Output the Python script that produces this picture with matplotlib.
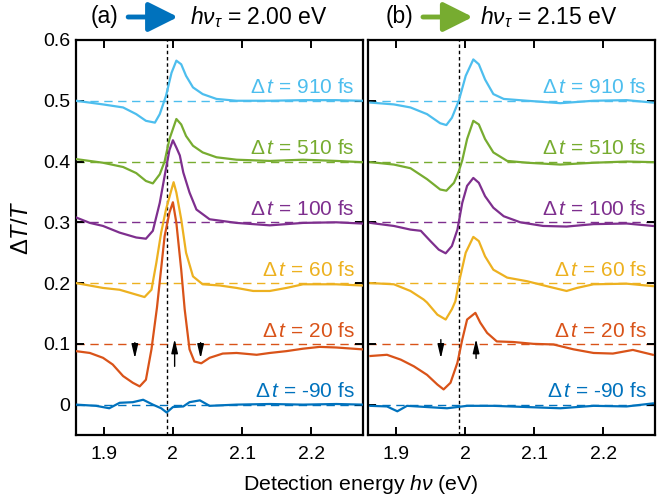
import numpy as np
import matplotlib
matplotlib.use("Agg")
import matplotlib.pyplot as plt

plt.rcParams['font.family'] = ['Liberation Sans', 'DejaVu Sans']
plt.rcParams['mathtext.fontset'] = 'custom'
plt.rcParams['mathtext.rm'] = 'Liberation Sans'
plt.rcParams['mathtext.it'] = 'Liberation Sans:italic'
plt.rcParams['mathtext.bf'] = 'Liberation Sans:bold'

# MATLAB-ish colours, one per delay
delays = ['-90', '20', '60', '100', '510', '910']
offsets = [0.0, 0.1, 0.2, 0.3, 0.4, 0.5]
colors = ['#0072BD', '#D95319', '#EDB120', '#7E2F8E', '#77AC30', '#4DBEEE']

# ---- panel (a): pump 2.00 eV ----
e_a_m90 = [1.860, 1.889, 1.908, 1.923, 1.942, 1.957, 1.971, 1.983, 1.991, 2.000, 2.015, 2.024, 2.039, 2.053, 2.092, 2.140, 2.188, 2.236, 2.273]
v_a_m90 = [0.000, -0.002, -0.006, 0.003, 0.004, 0.008, 0.000, -0.006, -0.013, -0.004, -0.003, 0.004, 0.007, -0.002, 0.000, 0.001, 0.000, 0.001, 0.000]
e_a_20 = [1.860, 1.880, 1.899, 1.913, 1.928, 1.942, 1.952, 1.961, 1.969, 1.977, 1.988, 1.995, 2.000, 2.005, 2.012, 2.017,
          2.024, 2.031, 2.041, 2.053, 2.072, 2.092, 2.121, 2.140, 2.164, 2.188, 2.212, 2.236, 2.273]
v_a_20 = [0.088, 0.085, 0.077, 0.066, 0.047, 0.036, 0.030, 0.041, 0.091, 0.160, 0.277, 0.316, 0.333, 0.299, 0.222, 0.157,
          0.091, 0.071, 0.068, 0.077, 0.084, 0.085, 0.082, 0.085, 0.088, 0.092, 0.095, 0.094, 0.091]
e_a_60 = [1.860, 1.899, 1.923, 1.947, 1.959, 1.969, 1.976, 1.983, 1.990, 1.998, 2.001, 2.005, 2.012, 2.019, 2.029, 2.043,
          2.068, 2.092, 2.116, 2.140, 2.164, 2.188, 2.236, 2.273]
v_a_60 = [0.200, 0.192, 0.189, 0.181, 0.177, 0.189, 0.233, 0.283, 0.321, 0.354, 0.366, 0.349, 0.305, 0.250, 0.211, 0.198,
          0.196, 0.192, 0.187, 0.187, 0.192, 0.198, 0.198, 0.196]
e_a_100 = [1.860, 1.880, 1.899, 1.923, 1.947, 1.961, 1.971, 1.981, 1.988, 1.995, 2.000, 2.005, 2.010, 2.015, 2.024, 2.034,
           2.053, 2.092, 2.140, 2.188, 2.236, 2.273]
v_a_100 = [0.308, 0.299, 0.294, 0.283, 0.275, 0.273, 0.286, 0.332, 0.376, 0.419, 0.435, 0.423, 0.410, 0.382, 0.349, 0.321,
           0.305, 0.299, 0.295, 0.299, 0.300, 0.298]
e_a_510 = [1.860, 1.899, 1.928, 1.947, 1.961, 1.971, 1.981, 1.988, 1.995, 2.005, 2.012, 2.019, 2.029, 2.043, 2.063, 2.092,
           2.140, 2.188, 2.236, 2.273]
v_a_510 = [0.404, 0.398, 0.391, 0.381, 0.368, 0.364, 0.379, 0.400, 0.437, 0.470, 0.461, 0.442, 0.426, 0.415, 0.407, 0.403,
           0.401, 0.403, 0.401, 0.399]
e_a_910 = [1.860, 1.899, 1.928, 1.947, 1.961, 1.974, 1.981, 1.990, 1.998, 2.005, 2.012, 2.019, 2.029, 2.043, 2.063, 2.092,
           2.140, 2.188, 2.236, 2.273]
v_a_910 = [0.500, 0.494, 0.489, 0.478, 0.467, 0.464, 0.478, 0.508, 0.546, 0.566, 0.560, 0.541, 0.522, 0.511, 0.503, 0.500,
           0.500, 0.501, 0.501, 0.500]

# ---- panel (b): pump 2.15 eV ----
e_b_m90 = [1.863, 1.887, 1.902, 1.916, 1.945, 1.974, 2.003, 2.041, 2.090, 2.138, 2.186, 2.234, 2.272]
v_b_m90 = [-0.002, -0.003, -0.011, -0.002, -0.004, -0.006, -0.002, -0.002, -0.004, -0.006, -0.002, -0.003, 0.002]
e_b_20 = [1.863, 1.887, 1.907, 1.926, 1.945, 1.960, 1.969, 1.979, 1.989, 1.996, 2.003, 2.015, 2.022, 2.032, 2.046, 2.070,
          2.099, 2.128, 2.157, 2.186, 2.214, 2.243, 2.272]
v_b_20 = [0.080, 0.082, 0.074, 0.063, 0.049, 0.033, 0.025, 0.036, 0.069, 0.107, 0.140, 0.151, 0.135, 0.118, 0.104, 0.103,
          0.100, 0.099, 0.091, 0.085, 0.084, 0.090, 0.082]
e_b_60 = [1.863, 1.897, 1.921, 1.940, 1.945, 1.960, 1.972, 1.981, 1.986, 1.991, 2.001, 2.012, 2.020, 2.029, 2.041, 2.061,
          2.090, 2.118, 2.147, 2.162, 2.186, 2.234, 2.272]
v_b_60 = [0.200, 0.198, 0.187, 0.173, 0.168, 0.148, 0.140, 0.157, 0.170, 0.200, 0.250, 0.276, 0.269, 0.244, 0.222, 0.209,
          0.203, 0.195, 0.187, 0.192, 0.198, 0.199, 0.195]
e_b_100 = [1.863, 1.897, 1.921, 1.936, 1.950, 1.962, 1.972, 1.981, 1.989, 1.996, 2.003, 2.012, 2.020, 2.029, 2.041, 2.056,
           2.080, 2.113, 2.147, 2.186, 2.234, 2.272]
v_b_100 = [0.299, 0.294, 0.288, 0.286, 0.269, 0.255, 0.249, 0.261, 0.288, 0.332, 0.360, 0.373, 0.365, 0.343, 0.324, 0.310,
           0.300, 0.294, 0.293, 0.297, 0.298, 0.294]
e_b_510 = [1.863, 1.897, 1.921, 1.945, 1.964, 1.973, 1.984, 1.991, 1.996, 2.003, 2.012, 2.020, 2.029, 2.041, 2.061, 2.090,
           2.138, 2.186, 2.234, 2.272]
v_b_510 = [0.399, 0.395, 0.389, 0.371, 0.354, 0.352, 0.365, 0.384, 0.402, 0.437, 0.467, 0.461, 0.437, 0.415, 0.401, 0.398,
           0.395, 0.398, 0.400, 0.399]
e_b_910 = [1.863, 1.897, 1.921, 1.945, 1.964, 1.973, 1.981, 1.991, 2.001, 2.012, 2.020, 2.029, 2.041, 2.056, 2.090, 2.138,
           2.186, 2.234, 2.272]
v_b_910 = [0.497, 0.494, 0.489, 0.478, 0.463, 0.460, 0.472, 0.500, 0.541, 0.568, 0.560, 0.535, 0.511, 0.503, 0.500, 0.496,
           0.500, 0.501, 0.497]

curves_a = [(e_a_m90, v_a_m90), (e_a_20, v_a_20), (e_a_60, v_a_60), (e_a_100, v_a_100), (e_a_510, v_a_510), (e_a_910, v_a_910)]
curves_b = [(e_b_m90, v_b_m90), (e_b_20, v_b_20), (e_b_60, v_b_60), (e_b_100, v_b_100), (e_b_510, v_b_510), (e_b_910, v_b_910)]

# black arrows on the 20 fs trace: (x, y_start, y_end)
arrows_a = [(1.945, 0.102, 0.076), (2.0025, 0.063, 0.108), (2.040, 0.102, 0.076)]
arrows_b = [(1.965, 0.107, 0.076), (2.016, 0.076, 0.108)]

pump_line = 1.992
xlim = (1.86, 2.275)
ylim = (-0.05, 0.6)

fig = plt.figure(figsize=(6.64, 4.98), dpi=100)
ax_a = fig.add_axes([0.1145, 0.1265, 0.4325, 0.7932])
ax_b = fig.add_axes([0.5547, 0.1265, 0.4317, 0.7932])

for ax, curves, arrows in [(ax_a, curves_a, arrows_a), (ax_b, curves_b, arrows_b)]:
    for (e, v), off, c, d in zip(curves, offsets, colors, delays):
        ax.axhline(off, color=c, lw=1.0, dashes=(6, 4), zorder=1)
        ax.plot(e, v, color=c, lw=1.6, zorder=3)
        ax.text(2.263, off + 0.012, r'$\Delta\,t$ = ' + d + ' fs', color=c, fontsize=15,
                ha='right', va='baseline', zorder=4)
    ax.axvline(pump_line, color='k', lw=1.0, dashes=(2.5, 2), zorder=2)
    for x, y0, y1 in arrows:
        ax.annotate('', xy=(x, y1), xytext=(x, y0),
                    arrowprops=dict(arrowstyle='-|>,head_length=0.6,head_width=0.14', color='k', lw=1.0,
                                    shrinkA=0, shrinkB=0, mutation_scale=14), zorder=5)
    ax.set_xlim(xlim)
    ax.set_ylim(ylim)
    ax.set_xticks([1.9, 2.0, 2.1, 2.2])
    ax.set_xticklabels(['1.9', '2', '2.1', '2.2'])
    ax.set_yticks([0, 0.1, 0.2, 0.3, 0.4, 0.5, 0.6])
    ax.tick_params(direction='in', top=True, right=True, length=6, width=1.4, labelsize=14, pad=8)
    for s in ax.spines.values():
        s.set_linewidth(1.6)

ax_a.set_yticklabels(['0', '0.1', '0.2', '0.3', '0.4', '0.5', '0.6'])
ax_a.tick_params(axis='y', pad=4)
ax_b.tick_params(axis='y', labelleft=False)

fig.text(22 / 664, 1 - 228 / 498, r'$\Delta T/T$', rotation=90, fontsize=17, ha='center', va='center')
fig.text(361 / 664, 1 - 484 / 498, r'Detection energy $h\nu$ (eV)', fontsize=15.3, ha='center', va='center')

# headers with coloured pump arrows
ty = 1 - 17 / 498
for lab, x_lab, x0, x1, x_txt, c, txt in [('(a)', 0.158, 0.193, 0.268, 0.286, colors[0], r'$h\nu_\tau$ = 2.00 eV'),
                                         ('(b)', 0.602, 0.637, 0.712, 0.723, colors[4], r'$h\nu_\tau$ = 2.15 eV')]:
    fig.text(x_lab, ty, lab, fontsize=16.5, ha='center', va='center')
    ax_a.annotate('', xy=(x1, ty), xytext=(x0, ty), xycoords='figure fraction', textcoords='figure fraction',
                  arrowprops=dict(arrowstyle='-|>,head_length=0.9,head_width=0.45', color=c, lw=3.5,
                                  shrinkA=0, shrinkB=0, mutation_scale=20))
    fig.text(x_txt, ty, txt, fontsize=16.5, ha='left', va='center')

fig.savefig('out.png', dpi=100)
